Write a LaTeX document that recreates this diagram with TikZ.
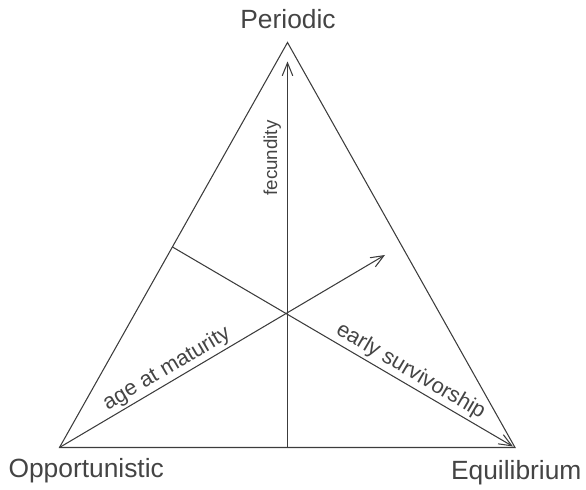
\documentclass[tikz,border=0pt]{standalone}
\usepackage{fontspec}
\setmainfont{Liberation Sans}
\usetikzlibrary{arrows.meta, calc}
\definecolor{LineGray}{HTML}{3C3C3C}
\definecolor{TextGray}{HTML}{444444}
\tikzset{
    % Line styles
    edge/.style={
        draw=LineGray,
        line width=0.9pt,
        line join=miter
    },
    traitarrow/.style={
        draw=LineGray,
        line width=0.9pt,
        -{Straight Barb[length=11pt,width=9pt,line width=0.9pt]}
    },
    % Text styles
    cornerlabel/.style={
        text=TextGray,
        font=\fontsize{22.5}{26}\selectfont,
        inner sep=0pt
    },
    traitlabel/.style={
        text=TextGray,
        font=\fontsize{18.5}{22}\selectfont,
        inner sep=2pt
    }
}
\begin{document}
\begin{tikzpicture}
    \useasboundingbox (0,0) rectangle (17.58,14.7);

    % Corners of the triangle
    \coordinate (top) at (8.625,13.425);
    \coordinate (opp) at (1.785,1.275);
    \coordinate (equ) at (15.45,1.275);

    % Inner points
    \coordinate (centre) at (8.625,5.28);
    \coordinate (bottommid) at (8.625,1.275);
    \coordinate (leftmid) at (5.175,7.29);
    \coordinate (fectip) at (8.625,12.855);
    \coordinate (agetip) at (11.55,7.05);
    \coordinate (survtip) at (15.39,1.305);

    % Triangle
    \draw[edge] (opp) -- (equ) -- (top) -- cycle;

    % Corner labels
    \node[cornerlabel,anchor=base] (periodic) at (8.64,13.85) {Periodic};
    \node[cornerlabel,anchor=base west] (opportunistic) at (0.25,0.36) {Opportunistic};
    \node[cornerlabel,anchor=base east] (equilibrium) at (17.45,0.32) {Equilibrium};

    % Trait axes
    \draw[traitarrow] (bottommid) -- (fectip);
    \draw[traitarrow] (opp) -- (agetip)
        node[traitlabel,pos=0.35,sloped,above] (age) {age at maturity};
    \draw[traitarrow] (leftmid) -- (survtip)
        node[traitlabel,pos=0.68,sloped,above] (surv) {early survivorship};

    % Vertical label
    \node[traitlabel,font=\fontsize{16}{20}\selectfont,rotate=90,anchor=base,inner sep=0pt] (fec) at (8.31,9.96) {fecundity};
\end{tikzpicture}
\end{document}
